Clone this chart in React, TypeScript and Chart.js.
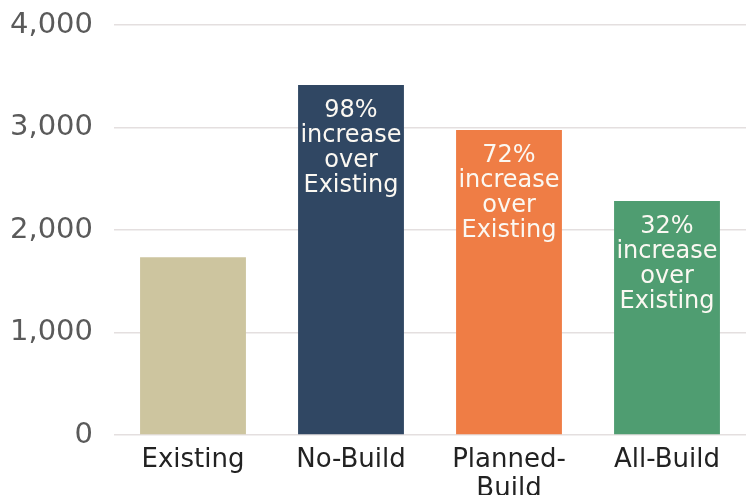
import React, { useEffect, useRef } from "react";
import { Chart, registerables } from "chart.js";

Chart.register(...registerables);

const categories: (string | string[])[] = ["Existing", "No-Build", ["Planned-", "Build"], "All-Build"];
const values = [1735, 3415, 2975, 2283];
const pctLabels = ["", "98%", "72%", "32%"];
const noteLines = ["increase", "over", "Existing"];
const barColors = ["#cdc59f", "#304763", "#ef7d45", "#4f9d71"];
const yMin = 0;
const yMax = 4000;
const yStep = 1000;

const FONT = "'DejaVu Sans', sans-serif";

const barNotes = {
  id: "barNotes",
  afterDatasetsDraw(chart: any) {
    const ctx = chart.ctx;
    const meta = chart.getDatasetMeta(0);
    ctx.save();
    ctx.font = `24px ${FONT}`;
    ctx.fillStyle = "#fbf8f2";
    ctx.textAlign = "center";
    ctx.textBaseline = "alphabetic";
    meta.data.forEach((bar: any, i: number) => {
      if (!pctLabels[i]) return;
      const lines = [pctLabels[i], ...noteLines];
      lines.forEach((line, k) => {
        ctx.fillText(line, bar.x, bar.y + 32 + k * 25);
      });
    });
    ctx.restore();
  },
};

export default function App() {
  const canvasRef = useRef<HTMLCanvasElement | null>(null);

  useEffect(() => {
    if (!canvasRef.current) return;
    const chart = new Chart(canvasRef.current, {
      type: "bar",
      data: {
        labels: categories as any,
        datasets: [
          {
            data: values,
            backgroundColor: barColors,
            borderWidth: 0,
            barPercentage: 0.67,
            categoryPercentage: 1.0,
          },
        ],
      },
      options: {
        animation: false,
        responsive: false,
        maintainAspectRatio: false,
        layout: { padding: { top: 25, right: 0, left: 0, bottom: 0 } },
        plugins: {
          legend: { display: false },
          tooltip: { enabled: false },
        },
        scales: {
          x: {
            grid: { display: false, drawTicks: false },
            border: { display: false },
            ticks: {
              color: "#222222",
              font: { family: FONT, size: 26, lineHeight: 1.1 },
              padding: 11,
              maxRotation: 0,
              autoSkip: false,
            },
            afterFit(scale: any) {
              scale.height = 60;
              scale.paddingLeft = 0;
              scale.paddingRight = 0;
            },
          },
          y: {
            min: yMin,
            max: yMax,
            grid: { color: "#e4dfdf", lineWidth: 1.5, drawTicks: false },
            border: { display: false },
            ticks: {
              stepSize: yStep,
              color: "#5a5a5a",
              font: { family: FONT, size: 29 },
              padding: 21,
              callback: (v: any) => Number(v).toLocaleString("en-US"),
            },
            afterFit(scale: any) {
              scale.width = 114;
              scale.paddingTop = 0;
              scale.paddingBottom = 0;
            },
          },
        },
      },
      plugins: [barNotes],
    });
    return () => chart.destroy();
  }, []);

  return (
    <div style={{ position: "fixed", left: 0, top: 0, width: 746, height: 495, background: "#ffffff" }}>
      <canvas ref={canvasRef} width={746} height={495} />
    </div>
  );
}
